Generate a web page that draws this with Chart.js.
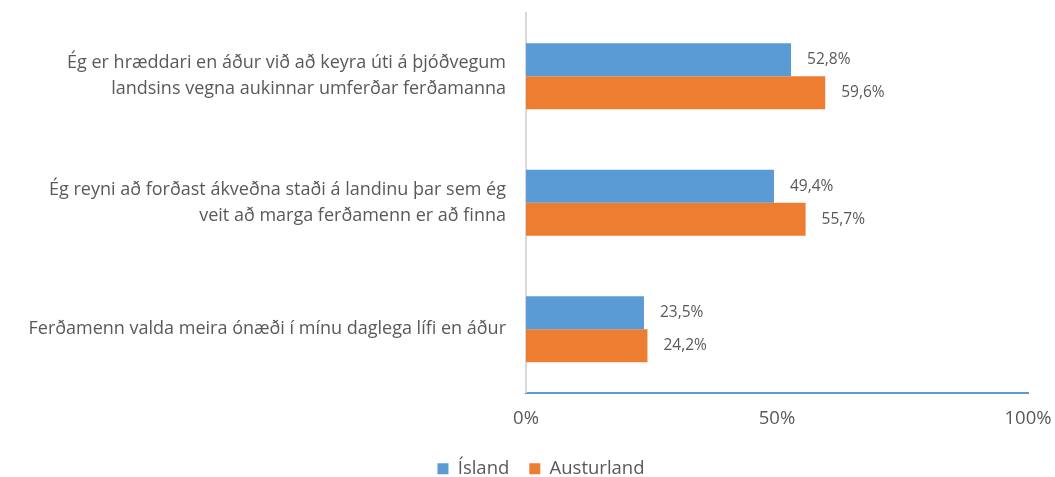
<!DOCTYPE html>
<html>
<head>
<meta charset="utf-8">
<script src="https://cdn.jsdelivr.net/npm/chart.js@4/dist/chart.umd.min.js"></script>
<style>
html,body{margin:0;padding:0;background:#fff;}
#wrap{width:1055px;height:477px;position:relative;}
</style>
</head>
<body>
<div id="wrap"><canvas id="c" width="1055" height="477"></canvas></div>
<script>
const categories = [
  ["Ég er hræddari en áður við að keyra úti á þjóðvegum", "landsins vegna aukinnar umferðar ferðamanna"],
  ["Ég reyni að forðast ákveðna staði á landinu þar sem ég", "veit að marga ferðamenn er að finna"],
  ["Ferðamenn valda meira ónæði í mínu daglega lífi en áður"]
];
const islandValues = [52.8, 49.4, 23.5];
const austurlandValues = [59.6, 55.7, 24.2];
const seriesNames = ["Ísland", "Austurland"];
const tickValues = [0, 50, 100];

const FONT = "'Open Sans', sans-serif";
const TEXT = "#595959";

const valueLabels = {
  id: 'valueLabels',
  afterDatasetsDraw(chart) {
    const ctx = chart.ctx;
    ctx.save();
    ctx.font = "15.5px " + FONT;
    ctx.fillStyle = TEXT;
    ctx.textAlign = 'left';
    ctx.textBaseline = 'middle';
    chart.data.datasets.forEach((ds, i) => {
      const meta = chart.getDatasetMeta(i);
      meta.data.forEach((el, j) => {
        const txt = ds.data[j].toFixed(1).replace('.', ',') + '%';
        ctx.fillText(txt, el.x + 16, el.y);
      });
    });
    ctx.restore();
  }
};

const shiftLegend = {
  id: 'shiftLegend',
  afterLayout(chart) {
    if (chart.legend) { chart.legend.left += 27; chart.legend.right += 27; }
  }
};

new Chart(document.getElementById('c'), {
  type: 'bar',
  data: {
    labels: categories,
    datasets: [
      { label: seriesNames[0], data: islandValues, backgroundColor: '#5B9BD5', borderWidth: 0 },
      { label: seriesNames[1], data: austurlandValues, backgroundColor: '#ED7D31', borderWidth: 0 }
    ]
  },
  options: {
    indexAxis: 'y',
    responsive: false,
    animation: false,
    devicePixelRatio: 1,
    layout: { padding: { left: 0, right: 27, top: 13, bottom: -11 } },
    datasets: { bar: { barPercentage: 1.0, categoryPercentage: 0.52 } },
    scales: {
      x: {
        min: 0, max: 100,
        afterBuildTicks(scale) { scale.ticks = tickValues.map(v => ({ value: v })); },
        afterFit(scale) { scale.height = 47; scale.paddingLeft = 0; scale.paddingRight = 0; },
        grid: { display: false, drawTicks: false },
        border: { display: true, color: '#5B9BD5', width: 2 },
        ticks: {
          padding: 15,
          color: TEXT,
          font: { family: FONT, size: 18.5 },
          maxRotation: 0,
          callback: v => v + '%'
        }
      },
      y: {
        grid: { display: false, drawTicks: false },
        border: { display: true, color: '#D9D9D9', width: 2 },
        afterFit(scale) { scale.width = 526; scale.paddingTop = 0; scale.paddingBottom = 0; },
        ticks: {
          padding: 20,
          color: TEXT,
          font: { family: FONT, size: 18, lineHeight: 1.45 },
          crossAlign: 'near'
        }
      }
    },
    plugins: {
      legend: {
        position: 'bottom',
        labels: {
          color: TEXT,
          font: { family: FONT, size: 18.5 },
          boxWidth: 11, boxHeight: 11,
          padding: 20
        }
      },
      tooltip: { enabled: false }
    }
  },
  plugins: [valueLabels, shiftLegend]
});
</script>
</body>
</html>
